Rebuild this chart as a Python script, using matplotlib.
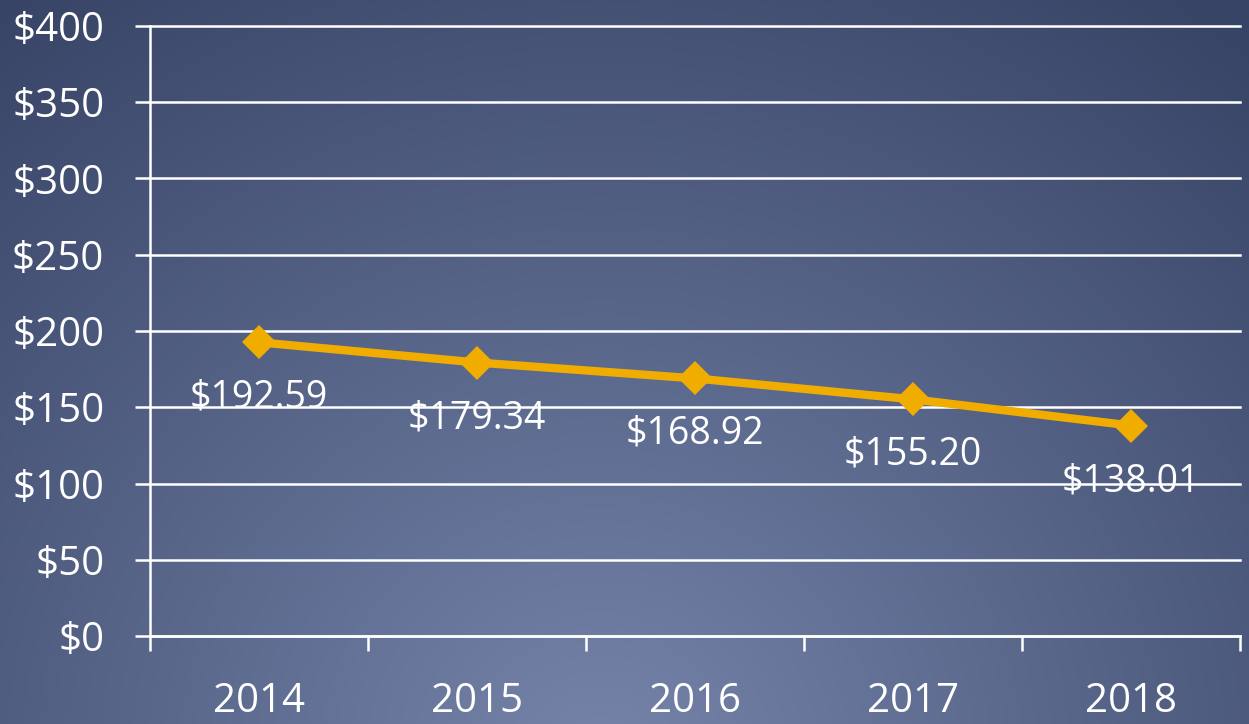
import numpy as np
import matplotlib
matplotlib.use("Agg")
import matplotlib.pyplot as plt
from matplotlib.ticker import FixedLocator

years = ["2014", "2015", "2016", "2017", "2018"]
values = [192.59, 179.34, 168.92, 155.20, 138.01]
value_labels = ["$192.59", "$179.34", "$168.92", "$155.20", "$138.01"]
y_ticks = [0, 50, 100, 150, 200, 250, 300, 350, 400]
y_tick_labels = ["$0", "$50", "$100", "$150", "$200", "$250", "$300", "$350", "$400"]

plt.rcParams['font.family'] = ['Open Sans', 'DejaVu Sans']

W, H = 1249, 724
fig = plt.figure(figsize=(W / 100, H / 100), dpi=100)

# radial gradient background
bg = fig.add_axes([0, 0, 1, 1], zorder=-10)
yy, xx = np.mgrid[0:H, 0:W]
cx, cy = 600, 760
d = np.sqrt(((xx - cx) / 1.0) ** 2 + ((yy - cy) / 0.95) ** 2)
t = np.clip(d / 1000.0, 0, 1)
c_in = np.array([118, 132, 170]) / 255.0
c_out = np.array([55, 68, 102]) / 255.0
img = c_in[None, None, :] * (1 - t[..., None]) + c_out[None, None, :] * t[..., None]
bg.imshow(img, aspect='auto', extent=[0, W, H, 0])
bg.axis('off')

ax = fig.add_axes([150 / W, 1 - 636 / H, 1090 / W, 610 / H])
ax.set_facecolor('none')
x = np.arange(len(years))
ax.set_xlim(-0.5, len(years) - 0.5)
ax.set_ylim(0, 400)

for yv in y_ticks:
    ax.axhline(yv, color='white', lw=1.8, zorder=1, clip_on=False)

ax.plot(x, values, color='#F0AD00', lw=6, marker='D', markersize=17,
        markeredgewidth=0, zorder=3, clip_on=False)

for xi, v, lab in zip(x, values, value_labels):
    ax.annotate(lab, (xi, v), xytext=(0, -40), textcoords='offset points',
                ha='center', va='center', color='white', fontsize=27, zorder=4)

for s in ['top', 'right']:
    ax.spines[s].set_visible(False)
ax.spines['left'].set_color('white')
ax.spines['left'].set_linewidth(1.8)
ax.spines['bottom'].set_color('white')
ax.spines['bottom'].set_linewidth(1.8)

ax.yaxis.set_major_locator(FixedLocator(y_ticks))
ax.set_yticklabels(y_tick_labels)
ax.tick_params(axis='y', colors='white', length=11, width=1.8, labelsize=29, pad=22)

ax.set_xticks(x)
ax.set_xticklabels(years)
ax.xaxis.set_minor_locator(FixedLocator(np.arange(-0.5, len(years), 1.0)))
ax.tick_params(axis='x', which='major', length=0, colors='white', labelsize=29, pad=33)
ax.tick_params(axis='x', which='minor', length=11, width=1.8, colors='white')

fig.savefig('out.png', dpi=100)
